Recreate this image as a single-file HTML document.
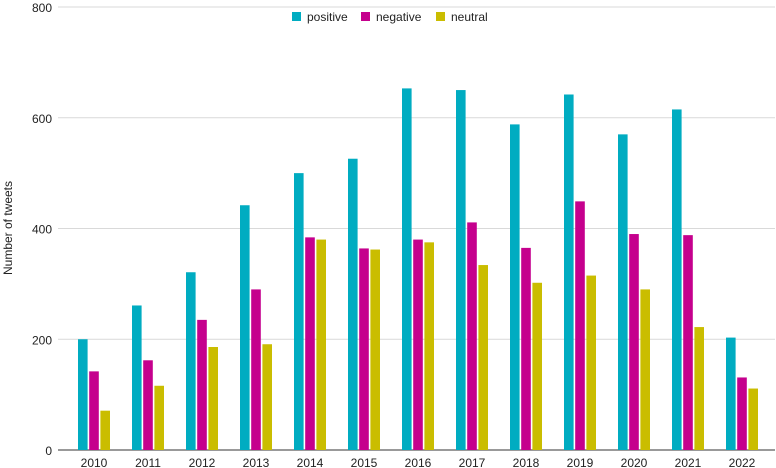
<!DOCTYPE html>
<html><head><meta charset="utf-8"><style>
body{margin:0;background:#fff;font-family:"Liberation Sans",Arial,sans-serif}
</style></head><body>
<svg id="c" width="776" height="468" style="display:block"></svg>
<script>
const years=["2010","2011","2012","2013","2014","2015","2016","2017","2018","2019","2020","2021","2022"];
const positive=[200,261,321,442,500,526,653,650,588,642,570,615,203];
const negative=[142,162,235,290,384,364,380,411,365,449,390,388,131];
const neutral=[71,116,186,191,380,362,375,334,302,315,290,222,111];
const yTicks=[0,200,400,600,800];
const seriesNames=["positive","negative","neutral"];
const colors=["#00acc1","#c5008d","#cabd00"];
const svg=document.getElementById('c');const NS="http://www.w3.org/2000/svg";
function mk(t,a,p){const e=document.createElementNS(NS,t);for(const k in a)e.setAttribute(k,a[k]);(p||svg).appendChild(e);return e;}
const y0=450,y800=7;const y=v=>y0-(v/800)*(y0-y800);
const cx=i=>94+54*i;
yTicks.forEach(t=>{
 const l=mk('line',{x1:58,x2:775,y1:y(t),y2:y(t),stroke:t===0?'#333':'#d9d9d9','stroke-width':1});
 
 
 const tx=mk('text',{x:52,y:y(t)+5,'text-anchor':'end','font-size':12,fill:'#222'});tx.textContent=t;
 
 
});
const series=[positive,negative,neutral];
years.forEach((yr,i)=>{
 series.forEach((s,j)=>{
  const x=cx(i)-16+j*11.2;
  const r=mk('rect',{x:x,y:y(s[i]),width:9.6,height:y0-y(s[i]),fill:colors[j]});
  
  
 });
 const tx=mk('text',{x:cx(i),y:467,'text-anchor':'middle','font-size':12,fill:'#222'});tx.textContent=yr;
 
 
});
const yt=mk('text',{x:0,y:0,transform:'translate(12,228) rotate(-90)','text-anchor':'middle','font-size':12,fill:'#222'});yt.textContent='Number of tweets';


const lx=[292,361,436];
seriesNames.forEach((n,j)=>{
 const g=mk('g',{});
 
 
 mk('rect',{x:lx[j],y:12,width:9,height:9,fill:colors[j]},g);
 const t=mk('text',{x:lx[j]+15,y:21,'font-size':12,fill:'#222'},g);t.textContent=n;
});
</script>
</body></html>
